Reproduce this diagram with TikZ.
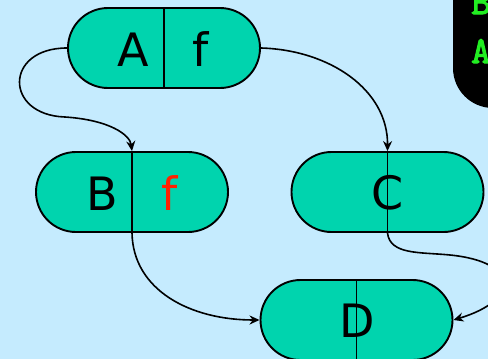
\documentclass[tikz,border=0pt]{standalone}
\usepackage{fontspec}
\setmainfont{DejaVu Sans}
\newfontfamily\codefont[FakeBold=3]{Latin Modern Mono}
\usetikzlibrary{shapes.misc,arrows.meta}
\definecolor{bg}{HTML}{C5EBFE}
\definecolor{pill}{HTML}{00D4AE}
\definecolor{codegreen}{HTML}{22EE22}
\definecolor{fred}{HTML}{FF2200}
\begin{document}
\begin{tikzpicture}[x=1pt,y=-1pt,
  pillbox/.style={rounded rectangle, draw=black, line width=1.9pt, fill=pill, minimum width=192pt, minimum height=80pt, inner sep=0pt},
  divider/.style={line width=1.7pt},
  lbl/.style={font=\fontsize{46}{50}\selectfont, inner sep=0pt, anchor=base},
  conn/.style={line width=1.6pt, -{Stealth[length=10pt,width=9pt]}},
  codetxt/.style={font=\codefont\fontsize{38}{40}\selectfont, text=codegreen, anchor=base west, inner sep=0pt}]
\useasboundingbox (0,0) rectangle (488,359);
\clip (0,0) rectangle (488,359);
\fill[bg] (0,0) rectangle (488,359);
\fill[black, rounded corners=40pt] (453,-80) rectangle (580,108);
\node[codetxt] (c1) at (471,14) {B};
\node[codetxt] (c2) at (471,63) {A};
\node[pillbox] (A) at (164,48) {};
\draw[divider] (A.north) -- (A.south);
\node[lbl] (Al) at (133,66) {A};
\node[lbl] (Af) at (201,66) {f};
\node[pillbox] (B) at (132,192) {};
\draw[divider] (B.north) -- (B.south);
\node[lbl] (Bl) at (102,210) {B};
\node[lbl, text=fred] (Bf) at (170,210) {f};
\node[pillbox] (C) at (387.5,192) {};
\draw[divider] (C.north) -- (C.south);
\node[lbl] (Cl) at (388,209) {C};
\node[pillbox] (D) at (356.5,320) {};
\draw[divider] (D.north) -- (D.south);
\node[lbl] (Dl) at (357,337) {D};
\draw[conn] (A.west) .. controls (4,48) and (4,115) .. (65,117) .. controls (110,120) and (130,135) .. (B.north);
\draw[conn] (A.east) .. controls (330,50) and (388,90) .. (C.north);
\draw[conn] (B.south) .. controls (133,290) and (190,320) .. (D.west);
\draw[conn] (C.south) .. controls (390,255) and (420,252) .. (450,255) .. controls (520,262) and (520,300) .. (D.east);
\end{tikzpicture}
\end{document}
